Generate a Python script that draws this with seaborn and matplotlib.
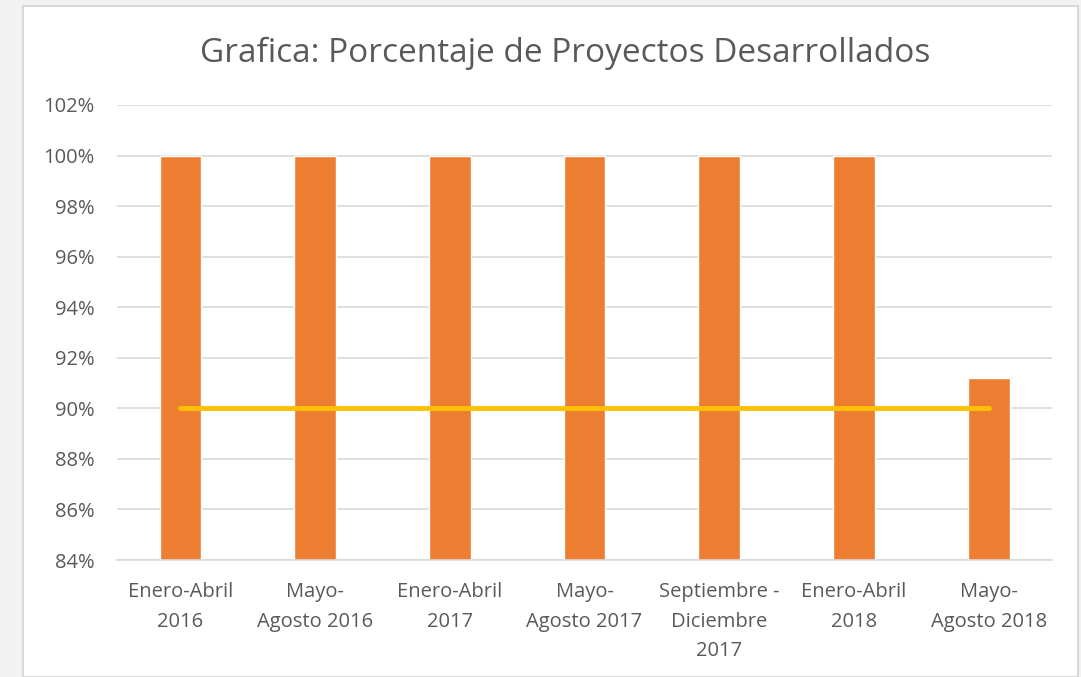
import matplotlib
matplotlib.use("Agg")
import pandas as pd
import seaborn as sns
import matplotlib.pyplot as plt
from matplotlib.patches import Rectangle
from matplotlib.ticker import FuncFormatter, MultipleLocator

periodos = ["Enero-Abril\n2016", "Mayo-\nAgosto 2016", "Enero-Abril\n2017",
            "Mayo-\nAgosto 2017", "Septiembre -\nDiciembre\n2017",
            "Enero-Abril\n2018", "Mayo-\nAgosto 2018"]
porcentaje = [100, 100, 100, 100, 100, 100, 91.2]
meta = [90, 90, 90, 90, 90, 90, 90]

df = pd.DataFrame({"periodo": periodos, "porcentaje": porcentaje, "meta": meta})

sns.set_theme(style="white")
plt.rcParams["font.family"] = ["Open Sans", "DejaVu Sans"]

fig = plt.figure(figsize=(10.81, 6.77), dpi=100)
fig.patch.set_facecolor("#f2f2f2")
# white chart frame behind the axes
fig.patches.append(Rectangle((23 / 1081, 0), (1078 - 23) / 1081, 1 - 6 / 677,
                             transform=fig.transFigure, facecolor="white",
                             edgecolor="#d9d9d9", linewidth=1.5, zorder=-5))

ax = fig.add_axes([117 / 1081, 1 - 560 / 677, (1052 - 117) / 1081, (560 - 105) / 677])
ax.set_zorder(2)
ax.set_facecolor("white")

sns.barplot(data=df, x="periodo", y="porcentaje", color="#ED7D31", width=0.31,
            saturation=1, ax=ax, zorder=2)
ax.plot(range(len(periodos)), df["meta"], color="#FFC000", linewidth=3.5,
        solid_capstyle="round", zorder=3)

ax.set_ylim(84, 102)
ax.yaxis.set_major_locator(MultipleLocator(2))
ax.yaxis.set_major_formatter(FuncFormatter(lambda v, p: f"{v:.0f}%"))
ax.grid(axis="y", color="#d9d9d9", linewidth=1.2, zorder=0)
ax.set_axisbelow(True)
for s in ["top", "right", "left"]:
    ax.spines[s].set_visible(False)
ax.spines["bottom"].set_color("#d9d9d9")
ax.spines["bottom"].set_linewidth(1.2)
ax.set_xlabel("")
ax.set_ylabel("")
ax.tick_params(axis="both", length=0, labelsize=14.5, labelcolor="#595959")
ax.tick_params(axis="x", pad=16)
ax.tick_params(axis="y", pad=16)
for lbl in ax.get_xticklabels():
    lbl.set_linespacing(1.62)

fig.text(565 / 1081, 1 - 53 / 677, "Grafica: Porcentaje de Proyectos Desarrollados",
         ha="center", va="center", fontsize=24, color="#595959")

fig.savefig("out.png", dpi=100, facecolor=fig.get_facecolor())
